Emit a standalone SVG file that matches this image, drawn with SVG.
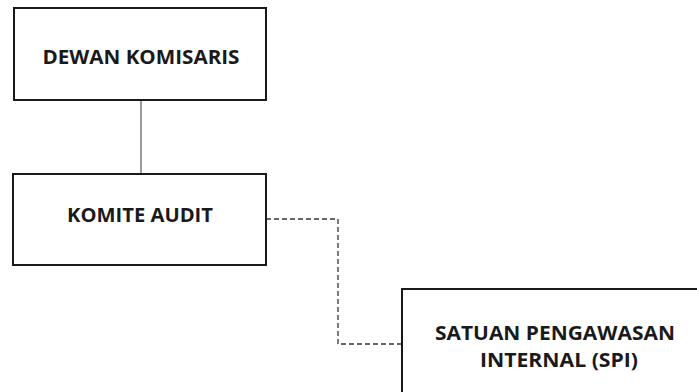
<svg xmlns="http://www.w3.org/2000/svg" width="697" height="392" viewBox="0 0 697 392">
<style>
.box{fill:#fff;stroke:#1a1a1a;stroke-width:2}
.t{font-family:"Open Sans","Noto Sans",sans-serif;font-weight:bold;fill:#1a1a1a;text-anchor:middle;dominant-baseline:central}
.solid{stroke:#777;stroke-width:1.5;fill:none}
.dash{stroke:#333;stroke-width:1.3;fill:none;stroke-dasharray:5,3}
</style>
<rect width="697" height="392" fill="#fff"/>
<g id="connectors">
<line class="solid" x1="141" y1="100" x2="141" y2="174"/>
<polyline class="dash" points="266,219 338,219 338,344 402,344"/>
</g>
<g id="dewan-komisaris">
<rect class="box" x="14" y="8" width="252" height="92"/>
<text class="t" x="141" y="56" font-size="20" textLength="197" lengthAdjust="spacingAndGlyphs">DEWAN KOMISARIS</text>
</g>
<g id="komite-audit">
<rect class="box" x="13" y="174" width="253" height="91"/>
<text class="t" x="140" y="214" font-size="20" textLength="146" lengthAdjust="spacingAndGlyphs">KOMITE AUDIT</text>
</g>
<g id="spi">
<rect class="box" x="402" y="289" width="310" height="120"/>
<text class="t" x="555" y="333" font-size="19" textLength="240" lengthAdjust="spacingAndGlyphs">SATUAN PENGAWASAN</text>
<text class="t" x="559" y="360" font-size="19" textLength="158" lengthAdjust="spacingAndGlyphs">INTERNAL (SPI)</text>
</g>
</svg>
